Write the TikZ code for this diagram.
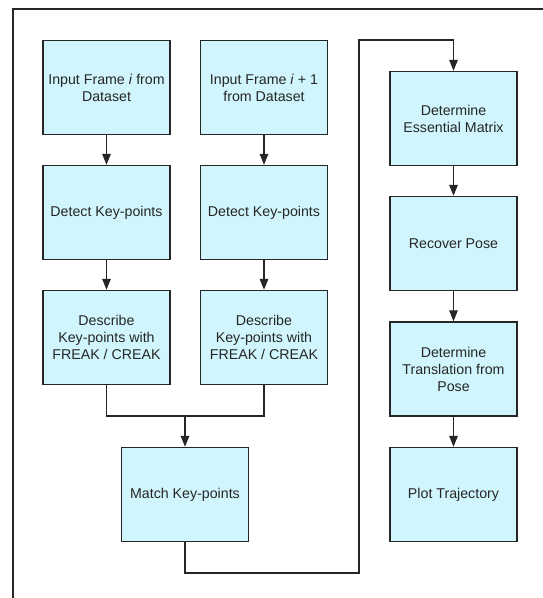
\documentclass[tikz,border=0pt]{standalone}
\usepackage{fontspec}
\setmainfont{Liberation Sans}
\usetikzlibrary{arrows.meta}
\definecolor{boxfill}{RGB}{208,245,252}
\definecolor{edge}{RGB}{38,38,38}
\begin{document}
\begin{tikzpicture}[x=1pt,y=-1pt,
  stepbox/.style={draw=edge,line width=1.4pt,fill=boxfill,minimum width=127pt,minimum height=94pt,
    align=center,font=\fontsize{14.2}{17}\selectfont,text=edge,inner sep=2pt},
  conn/.style={draw=edge,line width=1.4pt},
  arr/.style={conn,-{Triangle[width=8.5pt,length=11pt]}}]
\useasboundingbox (0,0) rectangle (543,598);
\draw[edge,line width=2.4pt] (12.7,598) -- (12.7,9) -- (543,9);
\node[stepbox] (a1) at (106.5,87.5) {Input Frame \textit{i} from\\Dataset};
\node[stepbox] (b1) at (264,87.5) {Input Frame \textit{i} + 1\\from Dataset};
\node[stepbox] (a2) at (106.5,212.5) {Detect Key-points};
\node[stepbox] (b2) at (264,212.5) {Detect Key-points};
\node[stepbox] (a3) at (106.5,337.5) {Describe\\Key-points with\\FREAK / CREAK};
\node[stepbox] (b3) at (264,337.5) {Describe\\Key-points with\\FREAK / CREAK};
\node[stepbox] (m) at (185,494.5) {Match Key-points};
\node[stepbox] (c) at (453.5,118.5) {Determine\\Essential Matrix};
\node[stepbox] (d) at (453.5,243.5) {Recover Pose};
\node[stepbox] (e) at (453.5,369) {Determine\\Translation from\\Pose};
\node[stepbox] (f) at (453.5,494.5) {Plot Trajectory};
\coordinate (mj) at (185,416);
\coordinate (c1) at (359,573);
\coordinate (c2) at (359,40);
\draw[arr] (a1) -- (a2);
\draw[arr] (a2) -- (a3);
\draw[arr] (b1) -- (b2);
\draw[arr] (b2) -- (b3);
\draw[conn] (a3.south) |- (mj);
\draw[conn] (b3.south) |- (mj);
\draw[arr] (mj) -- (m.north);
\draw[arr] (m.south) |- (c1) -- (c2) -| (c.north);
\draw[arr] (c) -- (d);
\draw[arr] (d) -- (e);
\draw[arr] (e) -- (f);
\end{tikzpicture}
\end{document}
